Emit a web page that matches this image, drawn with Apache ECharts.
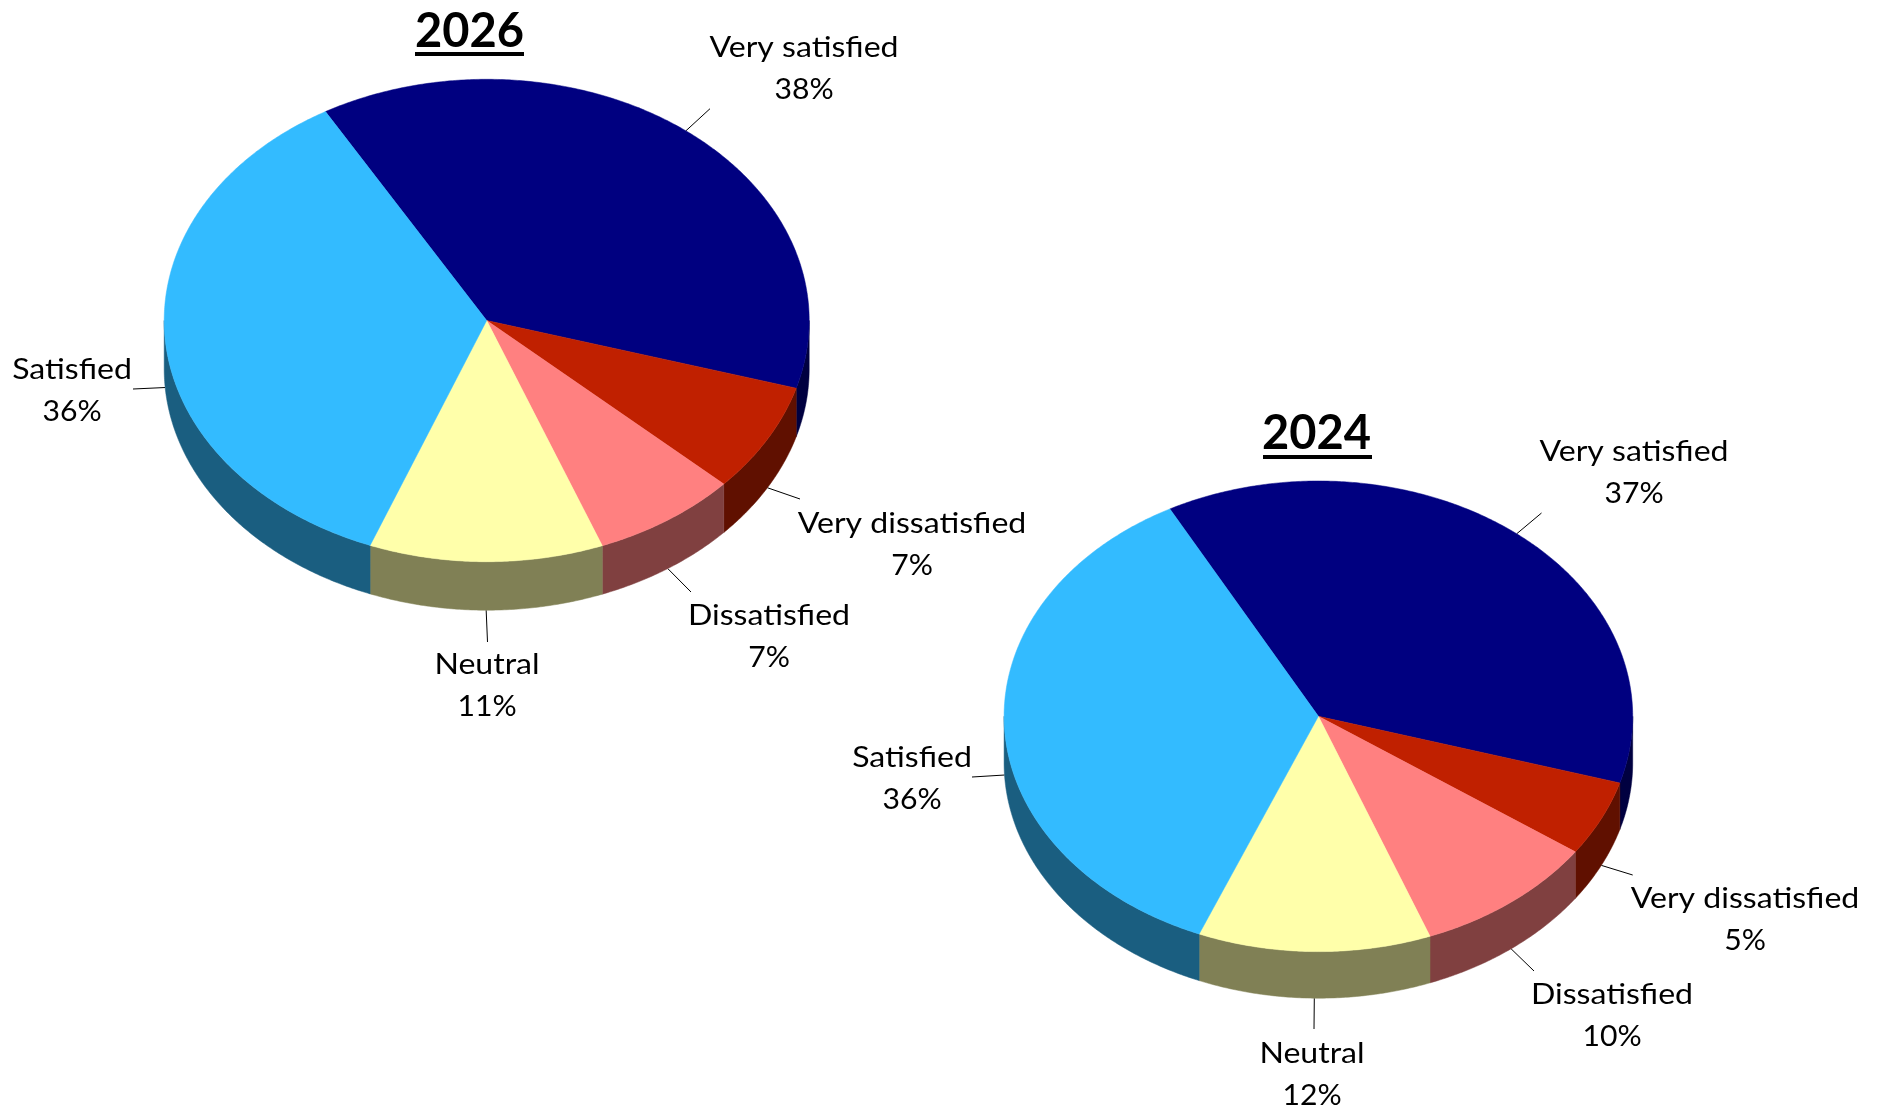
<!DOCTYPE html>
<html>
<head>
<meta charset="utf-8">
<style>html,body{margin:0;padding:0;background:#fff}#c{width:1881px;height:1109px}</style>
<script src="https://cdn.jsdelivr.net/npm/echarts@6/dist/echarts.min.js"></script>
</head>
<body>
<div id="c"></div>
<script>
// ---- data ----
const categories = ['Very satisfied', 'Very dissatisfied', 'Dissatisfied', 'Neutral', 'Satisfied'];
// slice shares, estimated from the drawn angles
const values2026 = [37.86, 7.33, 7.31, 11.72, 35.78];
const values2024 = [37.4, 5.2, 9.45, 11.97, 35.97];
// percentages as printed on the labels
const printed2026 = [38, 7, 7, 11, 36];
const printed2024 = [37, 5, 10, 12, 36];
const titles = ['2026', '2024'];

// ---- styling ----
const topColors  = ['#000080', '#C02000', '#FF8080', '#FFFFAA', '#33BBFF'];
const wallColors = ['#000040', '#601000', '#804040', '#808055', '#1A5E80'];
const FONT = 'Lato';
const FS = 29;
const NAME_STRETCH = 1.105;
const PCT_STRETCH = 1.04;

// ---- layout: ellipse geometry, label anchors, leader ends ----
const layout2026 = {
  cx: 486.7, cy: 320.5, rx: 322.5, ry: 241.2, depth: 48.5, startAngle: 330,
  labels:  [[804, 48], [912, 524], [769, 616], [487, 665], [72, 370]],
  leaders: [[710, 108.7], [800, 499], [691, 592], [487.5, 642], [133, 389]]
};
const layout2024 = {
  cx: 1318.4, cy: 716.3, rx: 314.3, ry: 235.3, depth: 46.6, startAngle: 331.8,
  labels:  [[1634, 452], [1745, 899], [1612, 995], [1312, 1054], [912, 758]],
  leaders: [[1541.5, 513], [1632.7, 875], [1534, 971], [1314, 1029], [972, 777]]
};
const lineGap = 42;

function pt(L, deg, dy) {
  const a = deg * Math.PI / 180;
  return [L.cx + L.rx * Math.sin(a), L.cy - L.ry * Math.cos(a) + (dy || 0)];
}
function arc(L, a0, a1, dy) {
  const pts = [], n = Math.max(2, Math.ceil((a1 - a0) * 2));
  for (let i = 0; i <= n; i++) pts.push(pt(L, a0 + (a1 - a0) * i / n, dy));
  return pts;
}

function pieSeries(values, printed, L) {
  const total = values.reduce((s, v) => s + v, 0);
  return {
    type: 'custom',
    coordinateSystem: 'none',
    silent: true,
    animation: false,
    data: values.map(v => [v]),
    renderItem: function (params, api) {
      const idx = params.dataIndex;
      let before = 0;
      for (let i = 0; i < idx; i++) before += values[i];
      const a0 = L.startAngle + before / total * 360;
      const a1 = a0 + api.value(0) / total * 360;
      const mid = (a0 + a1) / 2;
      const children = [];

      // side wall: the part of the rim facing the viewer (90..270 deg)
      [[90, 270], [450, 630]].forEach(function (r) {
        const w0 = Math.max(a0, r[0]), w1 = Math.min(a1, r[1]);
        if (w1 > w0) {
          const pts = arc(L, w0, w1, 0).concat(arc(L, w0, w1, L.depth).reverse());
          children.push({
            type: 'polygon', z2: 1, shape: { points: pts },
            style: { fill: wallColors[idx], stroke: wallColors[idx], lineWidth: 0.5 }
          });
        }
      });

      // top face
      children.push({
        type: 'polygon', z2: 2,
        shape: { points: [[L.cx, L.cy]].concat(arc(L, a0, a1, 0)) },
        style: { fill: topColors[idx], stroke: topColors[idx], lineWidth: 0.5 }
      });

      // leader line from the rim at the slice's mid-angle
      const nm = ((mid % 360) + 360) % 360;
      const start = pt(L, mid, nm > 90 && nm < 270 ? L.depth : 0);
      const end = L.leaders[idx];
      children.push({
        type: 'line', z2: 0,
        shape: { x1: start[0], y1: start[1], x2: end[0], y2: end[1] },
        style: { stroke: '#000', lineWidth: 1 }
      });

      // two line label
      const lab = L.labels[idx];
      children.push({
        type: 'text', z2: 3, x: lab[0], y: lab[1], scaleX: NAME_STRETCH,
        style: { text: categories[idx], fill: '#000', font: FS + 'px ' + FONT, textAlign: 'center', textVerticalAlign: 'middle' }
      });
      children.push({
        type: 'text', z2: 3, x: lab[0], y: lab[1] + lineGap, scaleX: PCT_STRETCH,
        style: { text: printed[idx] + '%', fill: '#000', font: FS + 'px ' + FONT, textAlign: 'center', textVerticalAlign: 'middle' }
      });
      return { type: 'group', children: children };
    }
  };
}

const chart = echarts.init(document.getElementById('c'), null, { width: 1881, height: 1109 });
chart.setOption({
  backgroundColor: '#fff',
  animation: false,
  title: [
    { text: titles[0], left: 464.5, top: 3, textAlign: 'center', textStyle: { fontFamily: FONT, fontWeight: 'bold', fontSize: 47, color: '#000' } },
    { text: titles[1], left: 1311.5, top: 405, textAlign: 'center', textStyle: { fontFamily: FONT, fontWeight: 'bold', fontSize: 47, color: '#000' } }
  ],
  graphic: [
    { type: 'rect', shape: { x: 415, y: 52, width: 109, height: 4 }, style: { fill: '#000' } },
    { type: 'rect', shape: { x: 1263, y: 455, width: 109, height: 4 }, style: { fill: '#000' } }
  ],
  series: [pieSeries(values2026, printed2026, layout2026), pieSeries(values2024, printed2024, layout2024)]
});
</script>
</body>
</html>
